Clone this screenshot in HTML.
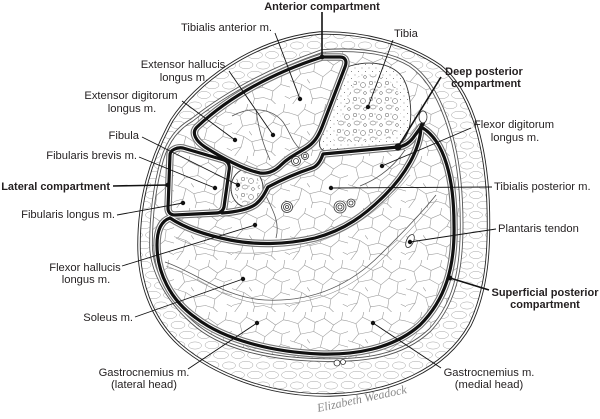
<!DOCTYPE html>
<html><head><meta charset="utf-8"><style>
html,body{margin:0;padding:0;background:#fff;}
svg{display:block;}
text{font-family:"Liberation Sans",Arial,sans-serif;font-size:11.2px;fill:#231f20;}
.b{font-weight:bold;font-size:11px;}
</style></head><body>
<svg width="600" height="419" viewBox="0 0 600 419" xmlns="http://www.w3.org/2000/svg">
<defs>
<pattern id="mus" width="58" height="52" patternUnits="userSpaceOnUse">
<g transform="scale(1.32 1.3)">
<path d="M0,7 L6,9 L11,4 L19,8 L26,5 L33,10 L39,6 L44,7 M6,9 L8,17 L3,23 L0,22 M11,4 L12,0 M19,8 L18,15 L8,17 M18,15 L25,19 L31,14 L33,10 M31,14 L38,17 L44,15 M25,19 L23,27 L15,29 L9,25 L3,23 M9,25 L7,33 L2,40 M15,29 L17,36 L16,40 M23,27 L31,30 L37,25 L38,17 M31,30 L30,37 L33,40 M37,25 L44,27 M17,36 L24,35 L30,37 M7,33 L0,35 M26,5 L27,0 M39,6 L40,0 M40,34 L44,36 M13,21 L15,24" fill="none" stroke="#9a9a9a" stroke-width="0.45"/>
</g>
</pattern>
<pattern id="fat" width="34" height="20" patternUnits="userSpaceOnUse">
<g fill="none" stroke="#a3a3a3" stroke-width="0.5">
<ellipse cx="8" cy="5" rx="7" ry="3.8"/><ellipse cx="25" cy="5.5" rx="6.5" ry="3.6"/>
<ellipse cx="0" cy="15" rx="6.5" ry="3.6"/><ellipse cx="34" cy="15" rx="6.5" ry="3.6"/><ellipse cx="17" cy="15" rx="7.5" ry="3.8"/>
</g></pattern>
<pattern id="bone" width="16" height="16" patternUnits="userSpaceOnUse">
<g fill="none" stroke="#555" stroke-width="0.5"><circle cx="3" cy="3" r="1.8"/><circle cx="11" cy="5" r="2.5"/><ellipse cx="5" cy="11" rx="3" ry="2"/><circle cx="13" cy="13" r="1.4"/></g>
<g fill="#555"><circle cx="7" cy="2" r="0.5"/><circle cx="1" cy="7" r="0.5"/><circle cx="9" cy="10" r="0.5"/></g>
</pattern>
<pattern id="dots" width="7" height="7" patternUnits="userSpaceOnUse">
<circle cx="1.5" cy="1.5" r="0.5" fill="#666"/><circle cx="5" cy="5" r="0.45" fill="#666"/>
</pattern>
</defs>

<!-- skin & fat -->
<path d="M320,33 C360,32 405,42 440,66 C470,90 485,140 488,200 C490,250 487,290 470,325 C445,370 390,394 330,395 C270,396 215,375 180,345 C150,318 139,280 139,245 C139,200 150,160 172,120 C195,85 250,40 320,33 Z" fill="#fff"/>
<path d="M320,33 C360,32 405,42 440,66 C470,90 485,140 488,200 C490,250 487,290 470,325 C445,370 390,394 330,395 C270,396 215,375 180,345 C150,318 139,280 139,245 C139,200 150,160 172,120 C195,85 250,40 320,33 Z" fill="url(#fat)"/>
<!-- muscle area -->
<path d="M322,51 C350,49 385,50 410,65 C440,85 458,140 461,200 C464,260 458,300 430,330 C400,358 360,361 320,360 C270,359 220,348 192,322 C165,298 151,268 151,245 C151,215 155,185 162,160 C168,140 178,128 192,120 Q245,78 322,51 Z" fill="#fff"/>
<path d="M322,51 C350,49 385,50 410,65 C440,85 458,140 461,200 C464,260 458,300 430,330 C400,358 360,361 320,360 C270,359 220,348 192,322 C165,298 151,268 151,245 C151,215 155,185 162,160 C168,140 178,128 192,120 Q245,78 322,51 Z" fill="url(#mus)"/>

<!-- skin double line -->
<path d="M320,33 C360,32 405,42 440,66 C470,90 485,140 488,200 C490,250 487,290 470,325 C445,370 390,394 330,395 C270,396 215,375 180,345 C150,318 139,280 139,245 C139,200 150,160 172,120 C195,85 250,40 320,33 Z" fill="none" stroke="#222" stroke-width="3.4"/>
<path d="M320,33 C360,32 405,42 440,66 C470,90 485,140 488,200 C490,250 487,290 470,325 C445,370 390,394 330,395 C270,396 215,375 180,345 C150,318 139,280 139,245 C139,200 150,160 172,120 C195,85 250,40 320,33 Z" fill="none" stroke="#fff" stroke-width="1.6"/>
<!-- fascia double line -->
<path d="M322,51 C350,49 385,50 410,65 C440,85 458,140 461,200 C464,260 458,300 430,330 C400,358 360,361 320,360 C270,359 220,348 192,322 C165,298 151,268 151,245 C151,215 155,185 162,160 C168,140 178,128 192,120 Q245,78 322,51 Z" fill="none" stroke="#555" stroke-width="3.6"/>
<path d="M322,51 C350,49 385,50 410,65 C440,85 458,140 461,200 C464,260 458,300 430,330 C400,358 360,361 320,360 C270,359 220,348 192,322 C165,298 151,268 151,245 C151,215 155,185 162,160 C168,140 178,128 192,120 Q245,78 322,51 Z" fill="none" stroke="#fff" stroke-width="1.8"/>

<!-- tibia -->
<path d="M350,66 C370,60 393,63 403,78 C411,92 413,118 408,132 C404,143 397,147 388,148 L328,151 C321,151 318,147 320,140 L345,72 C346,69 347,67 350,66 Z" fill="#fff" stroke="#333" stroke-width="0.9"/>
<path d="M350,66 C370,60 393,63 403,78 C411,92 413,118 408,132 C404,143 397,147 388,148 L328,151 C321,151 318,147 320,140 L345,72 C346,69 347,67 350,66 Z" fill="url(#dots)"/>
<path d="M360,76 C375,72 391,77 397,90 C402,102 402,120 397,131 C393,138 386,140 375,140 L338,142 C333,142 332,138 334,133 L354,82 C355,79 357,77 360,76 Z" fill="#fff"/>
<path d="M360,76 C375,72 391,77 397,90 C402,102 402,120 397,131 C393,138 386,140 375,140 L338,142 C333,142 332,138 334,133 L354,82 C355,79 357,77 360,76 Z" fill="url(#bone)"/>
<!-- fibula -->
<ellipse cx="247" cy="188" rx="16" ry="19" fill="#fff" stroke="#333" stroke-width="0.9"/>
<ellipse cx="247" cy="188" rx="13" ry="16" fill="url(#bone)"/>

<!-- thin muscle divisions -->
<g fill="none" stroke="#555" stroke-width="0.8">
<path d="M232,116 C250,106 272,108 283,122 C290,132 292,142 300,149"/>
<path d="M256,110 C258,126 262,142 270,160"/>
<path d="M405,150 C395,165 380,178 360,186"/>
<path d="M266,196 C274,212 280,224 276,238"/>
<path d="M165,262 C195,272 225,298 265,300 C305,302 345,290 380,255 C400,235 420,215 436,195"/>
<path d="M166,266 C196,276 226,302 265,304 C306,306 347,294 383,258 C402,239 421,219 437,199" stroke="#888" stroke-width="0.6"/>
<path d="M176,238 C200,250 230,256 270,252 C320,248 370,225 410,175" stroke="#999" stroke-width="0.6"/>
</g>

<!-- thick compartment lines: halo -->
<g fill="none" stroke-linejoin="round" stroke-linecap="round">
<g stroke="#777" stroke-width="7.5">
<path d="M322,57 L340,57 C346,57 347,62 345,67 L322,127 C318,137 314,143 306,148 C296,154 288,158 281,165 C275,171 268,174 260,173 C245,170 222,158 205,147 C196,141 191,133 197,127 Q245,82 322,57 Z"/>
<path d="M183,148 L224,160 C229,162 230,166 229,171 L224,207 C223,211 220,213 216,213 L175,215 C170,215 168,212 168,208 L170,155 C170,150 177,147 183,148 Z"/>
<path d="M222,213 C235,212 248,210 256,204 C262,199 265,193 268,187 C285,178 300,172 312,168 C318,166 321,160 323,154 L398,147 C405,146 410,142 413,138 L421,127"/>
<path d="M421,127 C420,150 405,175 385,195 C365,215 345,230 315,238 C285,245 255,245 230,240 C205,235 185,228 170,218"/>
<path d="M421,127 C445,140 454,180 454,225 C455,268 445,300 420,325 C392,350 352,355 320,354 C272,352 225,340 196,318 C170,300 157,272 157,245 C157,230 161,221 170,218"/>
</g>
<g stroke="#fff" stroke-width="5.2">
<path d="M322,57 L340,57 C346,57 347,62 345,67 L322,127 C318,137 314,143 306,148 C296,154 288,158 281,165 C275,171 268,174 260,173 C245,170 222,158 205,147 C196,141 191,133 197,127 Q245,82 322,57 Z"/>
<path d="M183,148 L224,160 C229,162 230,166 229,171 L224,207 C223,211 220,213 216,213 L175,215 C170,215 168,212 168,208 L170,155 C170,150 177,147 183,148 Z"/>
<path d="M222,213 C235,212 248,210 256,204 C262,199 265,193 268,187 C285,178 300,172 312,168 C318,166 321,160 323,154 L398,147 C405,146 410,142 413,138 L421,127"/>
<path d="M421,127 C420,150 405,175 385,195 C365,215 345,230 315,238 C285,245 255,245 230,240 C205,235 185,228 170,218"/>
<path d="M421,127 C445,140 454,180 454,225 C455,268 445,300 420,325 C392,350 352,355 320,354 C272,352 225,340 196,318 C170,300 157,272 157,245 C157,230 161,221 170,218"/>
</g>
<g stroke="#111" stroke-width="3.2">
<path d="M322,57 L340,57 C346,57 347,62 345,67 L322,127 C318,137 314,143 306,148 C296,154 288,158 281,165 C275,171 268,174 260,173 C245,170 222,158 205,147 C196,141 191,133 197,127 Q245,82 322,57 Z"/>
<path d="M183,148 L224,160 C229,162 230,166 229,171 L224,207 C223,211 220,213 216,213 L175,215 C170,215 168,212 168,208 L170,155 C170,150 177,147 183,148 Z"/>
<path d="M222,213 C235,212 248,210 256,204 C262,199 265,193 268,187 C285,178 300,172 312,168 C318,166 321,160 323,154 L398,147 C405,146 410,142 413,138 L421,127"/>
<path d="M421,127 C420,150 405,175 385,195 C365,215 345,230 315,238 C285,245 255,245 230,240 C205,235 185,228 170,218"/>
<path d="M421,127 C445,140 454,180 454,225 C455,268 445,300 420,325 C392,350 352,355 320,354 C272,352 225,340 196,318 C170,300 157,272 157,245 C157,230 161,221 170,218"/>
<path d="M421,127 L423,123" stroke-width="4"/>
</g>
</g>

<!-- vessels -->
<g fill="#fff" stroke="#333" stroke-width="0.8">
<circle cx="296" cy="161" r="4.5"/><circle cx="296" cy="161" r="2.5"/>
<circle cx="305" cy="156" r="3.5"/><circle cx="305" cy="156" r="1.8"/>
<circle cx="287" cy="207" r="5.5"/><circle cx="287" cy="207" r="3.5"/><circle cx="287" cy="207" r="1.5"/>
<circle cx="340" cy="207" r="6"/><circle cx="340" cy="207" r="4"/><circle cx="340" cy="207" r="2"/>
<circle cx="351" cy="203" r="4"/><circle cx="351" cy="203" r="2"/>
<ellipse cx="423" cy="117" rx="4" ry="6"/>
<ellipse cx="410" cy="241" rx="3.5" ry="7" transform="rotate(25 410 241)"/>
<circle cx="337" cy="363" r="3"/><circle cx="343" cy="362" r="2.5"/>
</g>

<!-- leaders -->
<g stroke="#111" stroke-width="0.9" fill="none">
<line x1="322" y1="12" x2="322" y2="57" stroke-width="1.6"/>
<line x1="275" y1="33" x2="300" y2="99"/>
<line x1="393" y1="40" x2="368" y2="107"/>
<line x1="229" y1="71" x2="273" y2="135"/>
<line x1="182" y1="101" x2="235" y2="140"/>
<line x1="142" y1="137" x2="238" y2="185"/>
<line x1="139" y1="157" x2="215" y2="188"/>
<line x1="113" y1="186" x2="168" y2="185" stroke-width="1.6"/>
<line x1="117" y1="215" x2="183" y2="203"/>
<line x1="122" y1="266" x2="255" y2="225"/>
<line x1="135" y1="317" x2="243" y2="279"/>
<line x1="188" y1="369" x2="257" y2="323"/>
<line x1="441" y1="77" x2="398" y2="147" stroke-width="1.6"/>
<line x1="471" y1="128" x2="382" y2="166"/>
<line x1="492" y1="187" x2="331" y2="188"/>
<line x1="496" y1="229" x2="410" y2="242"/>
<line x1="489" y1="290" x2="450" y2="278" stroke-width="1.6"/>
<line x1="441" y1="368" x2="373" y2="323"/>
</g>
<g fill="#111">
<circle cx="300" cy="99" r="2.2"/><circle cx="368" cy="107" r="2.2"/><circle cx="273" cy="135" r="2.2"/>
<circle cx="235" cy="140" r="2.2"/><circle cx="238" cy="185" r="2.2"/><circle cx="215" cy="188" r="2.2"/>
<circle cx="183" cy="203" r="2.2"/><circle cx="255" cy="225" r="2.2"/><circle cx="243" cy="279" r="2.2"/>
<circle cx="257" cy="323" r="2.2"/><circle cx="398" cy="147" r="3.6"/><circle cx="382" cy="166" r="2.2"/>
<circle cx="331" cy="188" r="2.2"/><circle cx="410" cy="242" r="2.2"/><circle cx="373" cy="323" r="2.2"/>
<circle cx="168" cy="185" r="2.4"/><circle cx="450" cy="278" r="2.4"/><circle cx="322" cy="57" r="2.4"/>
</g>

<!-- labels -->
<text class="b" x="322" y="10" text-anchor="middle">Anterior compartment</text>
<text x="272" y="31" text-anchor="end">Tibialis anterior m.</text>
<text x="394" y="37">Tibia</text>
<text x="183" y="68" text-anchor="middle">Extensor hallucis</text>
<text x="184" y="81" text-anchor="middle">longus m.</text>
<text x="131" y="99" text-anchor="middle">Extensor digitorum</text>
<text x="132" y="112" text-anchor="middle">longus m.</text>
<text x="139" y="139" text-anchor="end">Fibula</text>
<text x="137" y="159" text-anchor="end">Fibularis brevis m.</text>
<text class="b" x="110" y="190" text-anchor="end">Lateral compartment</text>
<text x="115" y="218" text-anchor="end">Fibularis longus m.</text>
<text x="85" y="271" text-anchor="middle">Flexor hallucis</text>
<text x="86" y="283" text-anchor="middle">longus m.</text>
<text x="133" y="321" text-anchor="end">Soleus m.</text>
<text x="144" y="376" text-anchor="middle">Gastrocnemius m.</text>
<text x="144" y="388" text-anchor="middle">(lateral head)</text>
<text class="b" x="484" y="75" text-anchor="middle">Deep posterior</text>
<text class="b" x="486" y="87" text-anchor="middle">compartment</text>
<text x="514" y="128" text-anchor="middle">Flexor digitorum</text>
<text x="515" y="141" text-anchor="middle">longus m.</text>
<text x="494" y="190">Tibialis posterior m.</text>
<text x="498" y="232">Plantaris tendon</text>
<text class="b" x="545" y="296" text-anchor="middle">Superficial posterior</text>
<text class="b" x="545" y="308" text-anchor="middle">compartment</text>
<text x="489" y="376" text-anchor="middle">Gastrocnemius m.</text>
<text x="489" y="388" text-anchor="middle">(medial head)</text>
<text x="318" y="412" transform="rotate(-12 318 412)" style="font-family:'Liberation Serif',serif;font-style:italic;font-size:12px;fill:#8a8a8a;">Elizabeth Weadock</text>
</svg>
</body></html>
